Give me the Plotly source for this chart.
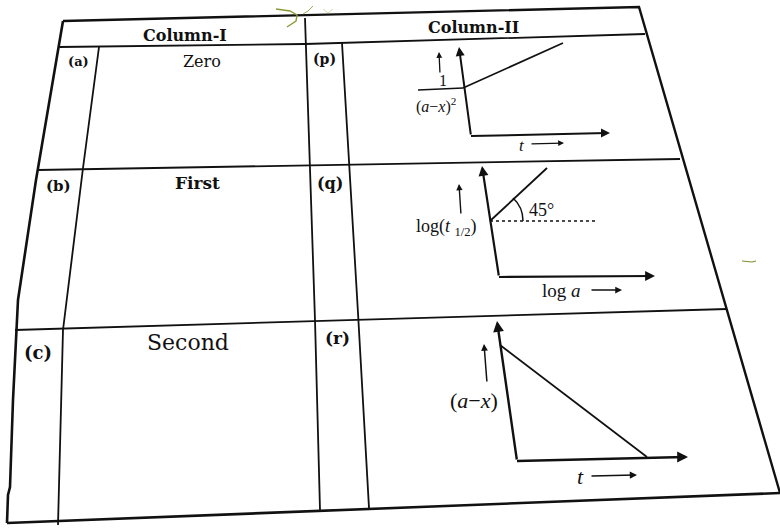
import plotly.graph_objects as go

# ---------------- content ----------------
header_labels = ["Column-I", "Column-II"]
row_letters = ["(a)", "(b)", "(c)"]
order_names = ["Zero", "First", "Second"]
graph_letters = ["(p)", "(q)", "(r)"]
graph_y_labels = ["1", "(<i>a</i>−<i>x</i>)<sup>2</sup>", "log(<i>t</i> <sub>1/2</sub>)", "(<i>a</i>−<i>x</i>)"]
graph_x_labels = ["<i>t</i>", "log <i>a</i>", "<i>t</i>"]
angle_label = "45°"

# ---------------- photographed table geometry (pixel space) ----------------
outer_x = [63, 639, 780]
outer_y = [21, 7, 493]
left_x = [63, 36, 18, 13, 10, 8, 7]
left_y = [21, 180, 300, 400, 487, 495, 523]
bottom_x = [7, 780]
bottom_y = [523, 493]
hlines = [
    ([59, 305, 645], [47, 44, 34]),      # header bottom
    ([38, 680], [170, 159]),             # a/b
    ([15, 727], [330, 309]),             # b/c
]
vlines = [
    ([305, 310, 315, 320], [18, 165, 320, 510]),   # column I / II
    ([99, 83, 63, 58], [47, 168, 330, 525]),        # letter col I
    ([342, 349, 358, 369], [43, 160, 313, 508]),    # letter col II
]

INK = "#111111"
SERIF = "DejaVu Serif"
MATH = "Liberation Serif"

fig = go.Figure()


def poly(xs, ys, w=2.0, dash=None, color=INK):
    fig.add_trace(go.Scatter(x=xs, y=ys, mode="lines",
                             line=dict(color=color, width=w, dash=dash),
                             hoverinfo="skip", showlegend=False))


def arrow(x0, y0, x1, y1, w=2.0, head=2, size=1.0):
    fig.add_annotation(x=x1, y=y1, ax=x0, ay=y0, xref="x", yref="y",
                       axref="x", ayref="y", text="", showarrow=True,
                       arrowhead=head, arrowwidth=w, arrowsize=size,
                       arrowcolor=INK)


def label(x, y, text, size, bold=False, family=SERIF, xanchor="center"):
    t = f"<b>{text}</b>" if bold else text
    fig.add_annotation(x=x, y=y, xref="x", yref="y", text=t, showarrow=False,
                       font=dict(family=family, size=size, color=INK),
                       xanchor=xanchor, yanchor="middle")


# table frame
poly(outer_x, outer_y, 2.4)
poly(left_x, left_y, 2.6)
poly(bottom_x, bottom_y, 2.6)
for xs, ys in hlines:
    poly(xs, ys, 1.8)
for xs, ys in vlines:
    poly(xs, ys, 1.8)

# scribble near the top
poly([276, 290, 297, 296, 287], [9, 11, 15, 21, 27], 1.4, color="#8a9a3a")
poly([303, 308, 313], [14, 11, 6], 1.0, color="#9aaa55")
poly([323, 328, 333], [9, 13, 9], 0.8, color="#c5cf99")
poly([742, 752, 756], [261, 262, 261], 1.2, color="#7d8f30")

# headers
label(185, 35, header_labels[0], 16, bold=True)
label(473, 27, header_labels[1], 16, bold=True)

# column I
row_letter_pos = [(78, 61, 13), (58, 186, 15), (38, 352, 18)]
order_pos = [(202, 61, 16), (197, 183, 17), (188, 342, 22)]
for i in range(3):
    x, y, s = row_letter_pos[i]
    label(x, y, row_letters[i], s, bold=True)
    x, y, s = order_pos[i]
    label(x, y, order_names[i], s, bold=(i == 1))

# column II letters
graph_letter_pos = [(324, 59, 14), (330, 183, 16), (337, 338, 17)]
for i in range(3):
    x, y, s = graph_letter_pos[i]
    label(x, y, graph_letters[i], s, bold=True)

# ---- graph (p) ----
poly([471, 607], [136, 133], 2.0)
arrow(471, 136, 459, 47, 2.0, head=2, size=0.9)
arrow(600, 133, 610, 133, 2.0, head=2, size=0.9)
poly([463, 563], [88, 43], 1.6)
poly([418, 463], [90, 88], 1.4)
label(443, 80, graph_y_labels[0], 16, family=MATH)
label(436, 105, graph_y_labels[1], 16, family=MATH)
arrow(440, 74, 439, 52, 1.3, head=2, size=0.9)
label(522, 145, graph_x_labels[0], 17, family=MATH)
arrow(530, 144, 564, 143, 1.3, head=2, size=0.9)

# ---- graph (q) ----
poly([499, 652], [277, 276], 2.2)
arrow(499, 277, 482, 166, 2.2, head=2, size=0.9)
arrow(645, 276, 655, 276, 2.2, head=2, size=0.9)
poly([490, 547], [221, 168], 1.8)
poly([490, 597], [221, 221], 1.4, dash="dot")
fig.add_shape(type="path", xref="x", yref="y",
              path="M 523 221 Q 523 207 513 198",
              line=dict(color=INK, width=1.5))
label(541, 210, angle_label, 18, family=MATH)
label(446, 227, graph_y_labels[2], 18, family=MATH)
arrow(461, 215, 459, 184, 1.4, head=2, size=0.9)
label(561, 290, graph_x_labels[1], 19, family=MATH)
arrow(590, 290, 622, 290, 1.5, head=2, size=0.9)

# ---- graph (r) ----
poly([517, 685], [461, 457], 2.4)
arrow(517, 461, 497, 321, 2.4, head=2, size=0.9)
arrow(678, 457, 688, 457, 2.4, head=2, size=0.9)
poly([500, 647], [345, 457], 1.8)
label(474, 400, graph_y_labels[3], 22, family=MATH)
arrow(487, 383, 484, 344, 1.5, head=2, size=0.9)
label(580, 476, graph_x_labels[2], 22, family=MATH)
arrow(590, 476, 637, 475, 1.6, head=2, size=0.9)

fig.update_layout(
    width=780, height=528,
    margin=dict(l=0, r=0, t=0, b=0),
    paper_bgcolor="white", plot_bgcolor="white",
    xaxis=dict(range=[0, 780], visible=False, fixedrange=True),
    yaxis=dict(range=[528, 0], visible=False, fixedrange=True),
    showlegend=False,
)

fig.write_html("out.html", config={"displayModeBar": False},
               post_script="document.body.style.margin='0';"
                           "document.body.style.overflow='hidden';")
